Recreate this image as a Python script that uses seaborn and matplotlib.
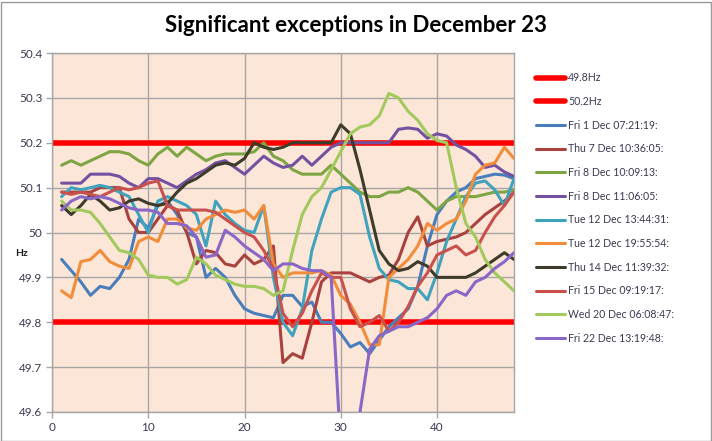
import matplotlib
matplotlib.use("Agg")
import matplotlib.pyplot as plt
import matplotlib.patches as mpatches
from matplotlib.lines import Line2D
import seaborn as sns
import pandas as pd

x_vals = list(range(1, 49))

fri1 = [49.94, 49.915, 49.89, 49.86, 49.88, 49.875, 49.9, 49.94, 50.03, 50.01,
        50.06, 50.07, 50.04, 50.0, 49.99, 49.9, 49.92, 49.9, 49.86, 49.83,
        49.82, 49.815, 49.81, 49.86, 49.86, 49.835, 49.845, 49.8, 49.8, 49.775,
        49.745, 49.755, 49.73, 49.76, 49.79, 49.81, 49.83, 49.88, 49.97, 50.04,
        50.07, 50.09, 50.1, 50.12, 50.125, 50.13, 50.128, 50.12]
thu7 = [50.09, 50.09, 50.09, 50.09, 50.1, 50.1, 50.1, 50.03, 50.0, 50.0,
        50.03, 50.06, 50.05, 50.0, 49.93, 49.96, 49.955, 49.93, 49.925, 49.95,
        49.93, 49.94, 49.97, 49.71, 49.73, 49.72, 49.8, 49.89, 49.91, 49.91,
        49.91, 49.9, 49.89, 49.9, 49.905, 49.94, 50.0, 50.035, 49.97, 49.98,
        49.985, 49.99, 50.0, 50.02, 50.04, 50.055, 50.07, 50.09]
fri8a = [50.15, 50.16, 50.15, 50.16, 50.17, 50.18, 50.18, 50.175, 50.16, 50.15,
         50.175, 50.19, 50.17, 50.19, 50.175, 50.16, 50.17, 50.175, 50.175, 50.175,
         50.18, 50.2, 50.17, 50.16, 50.14, 50.13, 50.13, 50.13, 50.15, 50.13,
         50.11, 50.09, 50.08, 50.08, 50.09, 50.09, 50.1, 50.09, 50.07, 50.05,
         50.07, 50.08, 50.08, 50.08, 50.085, 50.09, 50.09, 50.095]
fri8b = [50.11, 50.11, 50.11, 50.13, 50.13, 50.13, 50.125, 50.11, 50.1, 50.12,
         50.12, 50.11, 50.1, 50.115, 50.13, 50.14, 50.155, 50.16, 50.145, 50.13,
         50.15, 50.17, 50.155, 50.145, 50.15, 50.17, 50.15, 50.17, 50.19, 50.2,
         50.2, 50.2, 50.2, 50.2, 50.2, 50.23, 50.233, 50.23, 50.21, 50.22,
         50.215, 50.195, 50.185, 50.17, 50.145, 50.15, 50.135, 50.125]
tue12a = [50.08, 50.1, 50.095, 50.1, 50.105, 50.1, 50.09, 50.08, 50.04, 50.0,
          50.07, 50.08, 50.07, 50.06, 50.04, 49.97, 50.07, 50.04, 50.02, 50.005,
          50.0, 50.06, 49.9, 49.8, 49.77, 49.83, 49.96, 50.03, 50.09, 50.1,
          50.1, 50.085, 49.99, 49.92, 49.895, 49.89, 49.875, 49.875, 49.85, 49.91,
          49.98, 50.03, 50.08, 50.11, 50.115, 50.095, 50.06, 50.12]
tue12b = [49.87, 49.855, 49.935, 49.94, 49.96, 49.935, 49.925, 49.92, 49.98, 49.99,
          49.98, 50.03, 50.03, 50.01, 50.005, 50.03, 50.04, 50.05, 50.045, 50.05,
          50.03, 50.06, 49.93, 49.9, 49.91, 49.91, 49.91, 49.915, 49.905, 49.86,
          49.84, 49.8, 49.75, 49.75, 49.9, 49.92, 49.94, 49.97, 50.02, 50.005,
          50.02, 50.03, 50.07, 50.13, 50.15, 50.155, 50.19, 50.165]
thu14 = [50.06, 50.04, 50.06, 50.085, 50.07, 50.05, 50.055, 50.07, 50.075, 50.065,
         50.06, 50.065, 50.09, 50.11, 50.12, 50.135, 50.15, 50.155, 50.15, 50.165,
         50.2, 50.19, 50.185, 50.19, 50.2, 50.2, 50.2, 50.2, 50.2, 50.24,
         50.22, 50.14, 50.05, 49.96, 49.93, 49.915, 49.92, 49.935, 49.925, 49.9,
         49.9, 49.9, 49.9, 49.91, 49.925, 49.94, 49.955, 49.94]
fri15 = [50.09, 50.085, 50.09, 50.085, 50.08, 50.09, 50.1, 50.095, 50.1, 50.11,
         50.115, 50.06, 50.05, 50.05, 50.05, 50.05, 50.045, 50.03, 50.015, 50.0,
         49.99, 49.96, 49.92, 49.82, 49.79, 49.82, 49.87, 49.91, 49.9, 49.9,
         49.83, 49.79, 49.8, 49.815, 49.78, 49.8, 49.835, 49.88, 49.91, 49.95,
         49.96, 49.97, 49.95, 49.96, 50.0, 50.035, 50.06, 50.09]
wed20 = [50.07, 50.05, 50.05, 50.045, 50.02, 49.99, 49.96, 49.955, 49.94, 49.905,
         49.9, 49.9, 49.885, 49.895, 49.945, 49.93, 49.905, 49.895, 49.885, 49.88,
         49.88, 49.875, 49.86, 49.87, 49.96, 50.04, 50.08, 50.1, 50.14, 50.18,
         50.22, 50.235, 50.24, 50.26, 50.31, 50.3, 50.27, 50.25, 50.22, 50.205,
         50.2, 50.1, 50.02, 49.99, 49.94, 49.91, 49.89, 49.87]
fri22 = [50.05, 50.07, 50.08, 50.075, 50.08, 50.075, 50.065, 50.055, 50.05, 50.05,
         50.045, 50.02, 50.02, 50.015, 49.99, 49.945, 49.95, 50.005, 49.99, 49.97,
         49.955, 49.94, 49.915, 49.93, 49.93, 49.92, 49.915, 49.915, 49.9, 49.52,
         49.4, 49.6, 49.74, 49.77, 49.78, 49.79, 49.79, 49.8, 49.81, 49.83,
         49.86, 49.87, 49.86, 49.89, 49.9, 49.92, 49.935, 49.955]

limit_labels = ["49.8Hz", "50.2Hz"]
limit_values = [49.8, 50.2]
limit_x = [0, 48]

series_labels = ["Fri 1 Dec 07:21:19:", "Thu 7 Dec 10:36:05:", "Fri 8 Dec 10:09:13:",
                 "Fri 8 Dec 11:06:05:", "Tue 12 Dec 13:44:31:", "Tue 12 Dec 19:55:54:",
                 "Thu 14 Dec 11:39:32:", "Fri 15 Dec 09:19:17:", "Wed 20 Dec 06:08:47:",
                 "Fri 22 Dec 13:19:48:"]
series_values = [fri1, thu7, fri8a, fri8b, tue12a, tue12b, thu14, fri15, wed20, fri22]
colors = ["#4A7EBB", "#A8423F", "#7DA543", "#7451A0", "#3FA3BE", "#F08C3A",
          "#3E3B2A", "#C9514D", "#A2C95C", "#8A66C6"]

y_ticks = [49.6, 49.7, 49.8, 49.9, 50.0, 50.1, 50.2, 50.3, 50.4]
y_tick_labels = ["49.6", "49.7", "49.8", "49.9", "50", "50.1", "50.2", "50.3", "50.4"]
x_ticks = [0, 10, 20, 30, 40]

sns.set_theme(style="white")
plt.rcParams["font.family"] = ["Lato", "DejaVu Sans"]

rows = []
for lab, vals in zip(series_labels, series_values):
    for xv, yv in zip(x_vals, vals):
        rows.append({"x": xv, "Hz": yv, "series": lab})
df = pd.DataFrame(rows)

lim_rows = []
for lab, v in zip(limit_labels, limit_values):
    for xv in limit_x:
        lim_rows.append({"x": xv, "Hz": v, "series": lab})
df_lim = pd.DataFrame(lim_rows)

fig = plt.figure(figsize=(7.12, 4.41), dpi=100)
fig.patch.set_facecolor("white")
ax = fig.add_axes([52 / 712, 1 - 412 / 441, (514 - 52) / 712, (412 - 53) / 441])
ax.set_facecolor("#FCE6D8")

sns.lineplot(data=df_lim, x="x", y="Hz", hue="series", palette=["#FF0000", "#FF0000"],
             linewidth=4.0, estimator=None, legend=False, ax=ax, zorder=2)
sns.lineplot(data=df, x="x", y="Hz", hue="series", palette=colors, hue_order=series_labels,
             linewidth=2.2, estimator=None, legend=False, ax=ax, zorder=3)

ax.set_xlim(0, 48)
ax.set_ylim(49.6, 50.4)
ax.set_yticks(y_ticks)
ax.set_yticklabels(y_tick_labels)
ax.set_xticks(x_ticks)
ax.grid(True, color="#A6A6A6", linewidth=1.0)
ax.set_axisbelow(True)
for s in ax.spines.values():
    s.set_color("#A6A6A6")
    s.set_linewidth(1.0)
ax.tick_params(axis="both", which="both", length=4, width=1, color="#A6A6A6",
               labelsize=8.5, labelcolor="#3A3A50", direction="out", pad=3)
ax.tick_params(left=True, bottom=True)
ax.set_xlabel("")
ax.set_ylabel("")
fig.text(22 / 712, 1 - 253 / 441, "Hz", fontsize=7.5, fontweight="bold",
         color="#202020", ha="center", va="center")

fig.text(356 / 712, 1 - 25 / 441, "Significant exceptions in December 23",
         fontsize=16, fontweight="bold", ha="center", va="center", color="#000000")

handles = [Line2D([], [], color="#FF0000", linewidth=4.0) for _ in limit_labels]
handles += [Line2D([], [], color=c, linewidth=2.2) for c in colors]
labels = limit_labels + series_labels
fig.legend(handles, labels, loc="upper left", bbox_to_anchor=(532 / 712, 1 - 68 / 441),
           frameon=False, fontsize=7.6, handlelength=2.7, handletextpad=0.3,
           labelspacing=1.2, borderaxespad=0, labelcolor="#3A3A50")

fig.patches.append(mpatches.Rectangle((0.5 / 712, 0.5 / 441), 1 - 2 / 712, 1 - 2 / 441,
                                      transform=fig.transFigure, fill=False,
                                      edgecolor="#9A9A9A", linewidth=1.0))

fig.savefig("out.png", dpi=100)
